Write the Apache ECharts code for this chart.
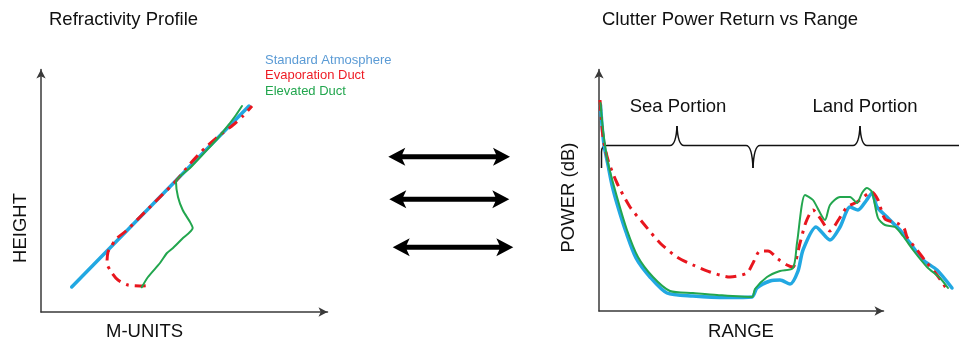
<!DOCTYPE html>
<html><head><meta charset="utf-8">
<script src="https://cdn.jsdelivr.net/npm/echarts@6/dist/echarts.min.js"></script>
<style>html,body{margin:0;padding:0;background:#fff}#c{width:959px;height:343px}</style>
</head><body><div id="c"></div>
<script>
// ---- Left panel: refractivity profile (M-units, height) ----
const refStandard = [[30.7,25],[208,206]];
const refEvaporation = [[104.7,26.3],[99,26],[87,27],[77,32],[71,39],[66,49],[67,60],[70,65],[75,73],[85,81],[99,95],[119,115],[134,130],[149,148],[164,164],[179,177],[192,187],[202,196],[211,206]];
const refElevated = [[100.7,24.7],[107,35],[119,49],[126,59],[132,64],[141,73],[151.7,84],[149,90],[141.7,102],[137,115],[135,130],[149,144],[164,160],[177,174],[189,189],[195,197],[201,206]];
// ---- Right panel: clutter power (range, dB) ----
const clutStandard = [[1.5,206],[3,186],[5,166],[9,146],[13,126],[19,104],[27,79],[37,53],[51,34],[68,18],[94,15],[128,13.5],[153,14],[158,23],[171,30],[181,31],[191,27],[199,40],[204,61],[217,84],[231,71],[241,84],[251,104],[259,101],[267,110],[273,118],[278,104],[288,94],[301,81],[311,68],[324,51],[338,41],[353,23]];
const clutEvaporation = [[1,211],[4,174],[9,151],[18,128],[31,104],[44,88],[61,68],[78,54],[94,46],[111,39],[131,34],[148,38],[154,48],[161,60],[169,60],[179,52],[188,46],[194,44],[201,68],[207,89],[214,101],[221,93],[231,80],[240,92],[248,104],[258,109],[273,119],[279,111],[286,92],[298,88],[305,83],[308,74],[318,61],[328,48],[338,36],[347,23]];
const clutElevated = [[1.5,208],[4,181],[9,148],[18,114],[28,81],[39,54],[54,34],[71,20],[94,18],[118,16],[153,14],[156,22],[168,34],[181,40],[194,43],[198,68],[206,116],[214,111],[226,91],[231,106],[241,114],[251,114],[258,108],[263,118],[268,123],[273,119],[279,93],[286,86],[296,84],[304,75],[314,61],[328,44],[341,33],[349,23]];
const legendNames = ['Standard Atmosphere','Evaporation Duct','Elevated Duct'];

const C_BLUE='#22a8e2', C_RED='#e8161e', C_GREEN='#22a64e';
const FONT='Liberation Sans, Arial, sans-serif';
const chart = echarts.init(document.getElementById('c'), null, {renderer:'canvas'});

function visAxis(gi){
  const line = {show:true, onZero:false, symbol:['none','arrow'], symbolSize:[7,9], lineStyle:{color:'#3a3a3a', width:1.5}};
  return {
    x:{type:'value', gridIndex:gi, min:0, max:1, axisLine:line, axisTick:{show:false}, axisLabel:{show:false}, splitLine:{show:false}},
    y:{type:'value', gridIndex:gi, min:0, max:1, axisLine:line, axisTick:{show:false}, axisLabel:{show:false}, splitLine:{show:false}}
  };
}
function hidAxis(gi, xmax, ymax){
  return {
    x:{type:'value', gridIndex:gi, min:0, max:xmax, show:false},
    y:{type:'value', gridIndex:gi, min:0, max:ymax, show:false}
  };
}
const a0 = visAxis(0), a1 = hidAxis(1,291,247), a2 = visAxis(2), a3 = hidAxis(3,360,246);

function ln(data, xi, color, w, type, z, cap){
  return {type:'line', data, xAxisIndex:xi, yAxisIndex:xi, showSymbol:false, symbol:'none', smooth:0.25, z,
    lineStyle:{color, width:w, type:type||'solid', cap:cap||'round', join:'round'}, silent:true, animation:false};
}
const DASHDOT = [11,6,3,6];

function dblArrow(x1,x2,c){
  return {type:'polygon', shape:{points:[[x1,c],[x1+17,c-9],[x1+14,c-2.5],[x2-14,c-2.5],[x2-17,c-9],[x2,c],[x2-17,c+9],[x2-14,c+2.5],[x1+14,c+2.5],[x1+17,c+9]]}, style:{fill:'#000'}};
}
function txt(t,x,y,size,color,align,rot){
  return {type:'text', x, y, rotation:rot||0, style:{text:t, font:size+'px '+FONT, fill:color||'#111', textAlign:align||'left', textVerticalAlign:'middle'}};
}
const BS = {stroke:'#111', lineWidth:1.5, fill:null};
function bl(x1,y1,x2,y2){ return {type:'line', shape:{x1,y1,x2,y2}, style:BS}; }
function bq(x1,y1,cx,cy,x2,y2){ return {type:'bezierCurve', shape:{x1,y1,cpx1:cx,cpy1:cy,x2,y2}, style:BS}; }
const BY = 145.5;
const brace = [
  bl(601.5,168,601.5,152), bq(601.5,152,601.5,BY,607,BY), bl(607,BY,670,BY),
  bq(670,BY,676,BY,677,126), bq(677,126,678,BY,684,BY), bl(684,BY,746,BY),
  bq(746,BY,752,BY,753,168), bq(753,168,754,BY,760,BY), bl(760,BY,853,BY),
  bq(853,BY,859,BY,860,126), bq(860,126,861,BY,867,BY), bl(867,BY,959,BY)
];

chart.setOption({
  animation:false,
  grid:[
    {left:41, top:69.5, width:286.5, height:242.5},
    {left:41, top:65, width:291, height:247},
    {left:599, top:69.5, width:284.5, height:241.5},
    {left:599, top:65, width:360, height:246}
  ],
  xAxis:[a0.x,a1.x,a2.x,a3.x],
  yAxis:[a0.y,a1.y,a2.y,a3.y],
  series:[
    ln(refStandard,1,C_BLUE,3.5,'solid',2),
    ln(refEvaporation,1,C_RED,3,DASHDOT,3,'butt'),
    ln(refElevated,1,C_GREEN,2,'solid',4),
    ln(clutStandard,3,C_BLUE,3.5,'solid',2),
    ln(clutEvaporation,3,C_RED,3,DASHDOT,3,'butt'),
    ln(clutElevated,3,C_GREEN,2,'solid',4)
  ],
  graphic:[
    txt('Refractivity Profile',49,20,18.5),
    txt('Clutter Power Return vs Range',602,20,18.5),
    txt('HEIGHT',21,228,18.5,'#111','center',Math.PI/2),
    txt('M-UNITS',144.5,331.5,18.5,'#111','center'),
    txt('POWER (dB)',569,197.5,18.5,'#111','center',Math.PI/2),
    txt('RANGE',741,331.5,18.5,'#111','center'),
    txt('Sea Portion',678,106.5,18.5,'#111','center'),
    txt('Land Portion',865,106.5,18.5,'#111','center'),
    txt(legendNames[0],265,60,13,'#5b9bd5'),
    txt(legendNames[1],265,75.5,13,'#ee1c25'),
    txt(legendNames[2],265,91,13,'#22a64e'),
    ...brace,
    dblArrow(388.3,510,156.7),
    dblArrow(389.3,509.3,199.3),
    dblArrow(392.7,513.3,247.3)
  ]
});
</script></body></html>
